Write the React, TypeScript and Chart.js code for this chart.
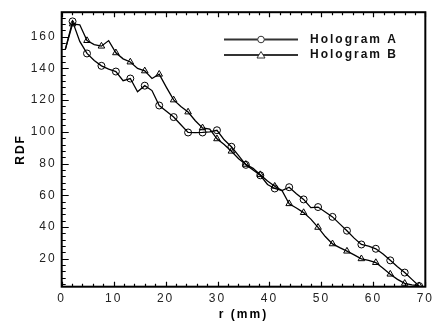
import React, { useEffect, useRef } from 'react';
import { Chart, registerables } from 'chart.js';

Chart.register(...registerables);

// radius r (mm) of each sample
const rValues = [
  0.7, 2.09, 3.48, 4.87, 6.26, 7.65, 9.04, 10.43, 11.82, 13.21,
  14.6, 15.99, 17.38, 18.77, 20.16, 21.55, 22.94, 24.33, 25.72, 27.11,
  28.5, 29.89, 31.28, 32.67, 34.06, 35.45, 36.84, 38.23, 39.62, 41.01,
  42.4, 43.79, 45.18, 46.57, 47.96, 49.35, 50.74, 52.13, 53.52, 54.91,
  56.3, 57.69, 59.08, 60.47, 61.86, 63.25, 64.64, 66.03, 67.42, 68.81,
];

const hologramA = [
  152, 169.6, 157, 149.4, 145, 141.6, 139.5, 138.0, 132.2, 133.6,
  125.3, 129.1, 126, 116.6, 113, 109.3, 104.5, 99.6, 99.5, 99.6,
  100, 101, 95, 90.6, 85, 79.2, 76, 72.6, 66.8, 64.3,
  63, 65.1, 61, 57.4, 52.2, 52.6, 49.5, 46.4, 42, 37.7,
  33, 29.0, 28, 26.3, 23, 19.0, 15, 11.3, 7, 2.8,
];

const hologramB = [
  152, 168, 167.5, 157.5, 155, 154, 157.5, 149.8, 146, 144,
  140, 138.4, 133.6, 136.3, 128, 120.1, 116, 112.5, 107, 102.5,
  101.7, 95.6, 92, 87.8, 83, 79.5, 77, 73, 69, 65.7,
  63, 54.7, 52, 49.1, 45, 39.8, 34, 29.4, 27, 24.8,
  22.5, 20.0, 19, 17.6, 14, 10.3, 7, 4.5, 3.5, 3,
];

// markers are shown on every other sample
const markerShown = [
  0, 1, 0, 1, 0, 1, 0, 1, 0, 1, 0, 1, 0, 1, 0, 1, 0, 1, 0, 1, 0, 1, 0, 1, 0,
  1, 0, 1, 0, 1, 0, 1, 0, 1, 0, 1, 0, 1, 0, 1, 0, 1, 0, 1, 0, 1, 0, 1, 0, 1,
];

const seriesNames = ['Hologram A', 'Hologram B'];
const xMajorTicks = [0, 10, 20, 30, 40, 50, 60, 70];
const xMinorTicks = [2, 4, 6, 8, 12, 14, 16, 18, 22, 24, 26, 28, 32, 34, 36, 38, 42, 44, 46, 48, 52, 54, 56, 58, 62, 64, 66, 68];
const yMajorTicks = [20, 40, 60, 80, 100, 120, 140, 160];
const yMinorTicks = [4, 8, 12, 16, 24, 28, 32, 36, 44, 48, 52, 56, 64, 68, 72, 76, 84, 88, 92, 96, 104, 108, 112, 116, 124, 128, 132, 136, 144, 148, 152, 156, 164, 168, 172];

const FONT = 'Arial, "Liberation Sans", Helvetica, sans-serif';

const spacingPlugin = {
  id: 'spacing',
  beforeUpdate(chart: any) {
    chart.ctx.letterSpacing = '2px';
  },
  beforeDraw(chart: any) {
    chart.ctx.letterSpacing = '2px';
  },
};

const framePlugin = {
  id: 'frame',
  afterDatasetsDraw(chart: any) {
    const { ctx, chartArea, scales } = chart;
    const { left, right, top, bottom } = chartArea;
    const xs = scales.x;
    const ys = scales.y;
    ctx.save();
    ctx.strokeStyle = '#000';
    ctx.lineWidth = 1.2;
    ctx.beginPath();
    const tickX = (v: number, len: number) => {
      const px = Math.round(xs.getPixelForValue(v)) + 0.5;
      ctx.moveTo(px, bottom);
      ctx.lineTo(px, bottom - len);
      ctx.moveTo(px, top);
      ctx.lineTo(px, top + len);
    };
    const tickY = (v: number, len: number) => {
      const py = Math.round(ys.getPixelForValue(v)) + 0.5;
      ctx.moveTo(left, py);
      ctx.lineTo(left + len, py);
    };
    xMajorTicks.forEach((v) => tickX(v, 5));
    xMinorTicks.forEach((v) => tickX(v, 3));
    yMajorTicks.forEach((v) => tickY(v, 7));
    yMinorTicks.forEach((v) => tickY(v, 4));
    ctx.stroke();
    ctx.lineWidth = 2;
    ctx.strokeRect(left, top, right - left, bottom - top);
    ctx.restore();
  },
  afterDraw(chart: any) {
    const { ctx } = chart;
    ctx.save();
    ctx.letterSpacing = '2px';
    const x0 = 224;
    const x1 = 298;
    const xm = 261;
    const rows = [39.5, 55];
    rows.forEach((y, i) => {
      ctx.strokeStyle = '#333';
      ctx.lineWidth = 2;
      ctx.beginPath();
      ctx.moveTo(x0, y);
      ctx.lineTo(x1, y);
      ctx.stroke();
      ctx.lineWidth = 1;
      ctx.fillStyle = '#fff';
      ctx.beginPath();
      if (i === 0) {
        ctx.arc(xm, y, 3.3, 0, Math.PI * 2);
      } else {
        ctx.moveTo(xm, y - 3.5);
        ctx.lineTo(xm + 4, y + 3);
        ctx.lineTo(xm - 4, y + 3);
        ctx.closePath();
      }
      ctx.fill();
      ctx.stroke();
      ctx.fillStyle = '#111';
      ctx.font = `bold 12px ${FONT}`;
      ctx.textBaseline = 'middle';
      ctx.textAlign = 'left';
      ctx.fillText(seriesNames[i], 310, y);
    });
    ctx.restore();
  },
};

export default function App() {
  const ref = useRef<HTMLCanvasElement | null>(null);

  useEffect(() => {
    document.body.style.margin = '0';
    const canvas = ref.current;
    if (!canvas) return;
    const makeData = (vals: number[]) => rValues.map((r, i) => ({ x: r, y: vals[i] }));
    const chart = new Chart(canvas, {
      type: 'line',
      data: {
        datasets: [
          {
            label: seriesNames[0],
            data: makeData(hologramA),
            borderColor: '#000',
            borderWidth: 1.3,
            pointStyle: 'circle',
            pointRadius: markerShown.map((m) => (m ? 3.5 : 0)),
            pointBorderColor: '#000',
            pointBorderWidth: 1,
            pointBackgroundColor: 'rgba(0,0,0,0)',
            tension: 0,
          },
          {
            label: seriesNames[1],
            data: makeData(hologramB),
            borderColor: '#000',
            borderWidth: 1.3,
            pointStyle: 'triangle',
            pointRadius: markerShown.map((m) => (m ? 3.8 : 0)),
            pointBorderColor: '#000',
            pointBorderWidth: 1,
            pointBackgroundColor: 'rgba(0,0,0,0)',
            tension: 0,
          },
        ],
      },
      options: {
        animation: false,
        responsive: false,
        devicePixelRatio: 1,
        layout: { padding: { left: 0, top: 9, right: 7.3, bottom: 0 } },
        plugins: {
          legend: { display: false },
          tooltip: { enabled: false },
        },
        scales: {
          x: {
            type: 'linear',
            min: 0,
            max: 70,
            grid: { display: false, drawTicks: false },
            border: { display: false },
            afterBuildTicks: (scale: any) => {
              scale.ticks = xMajorTicks.map((v) => ({ value: v }));
            },
            afterFit: (scale: any) => {
              scale.height = 36.3;
            },
            ticks: {
              padding: 5,
              color: '#222',
              font: { family: FONT, size: 12 },
              maxRotation: 0,
              autoSkip: false,
            },
            title: {
              display: true,
              text: 'r (mm)',
              color: '#000',
              font: { family: FONT, size: 12, weight: 'bold' },
              padding: { top: 0, bottom: 1 },
            },
          },
          y: {
            type: 'linear',
            min: 2.4,
            max: 175.4,
            grid: { display: false, drawTicks: false },
            border: { display: false },
            afterBuildTicks: (scale: any) => {
              scale.ticks = yMajorTicks.map((v) => ({ value: v }));
            },
            afterFit: (scale: any) => {
              scale.width = 61.7;
            },
            ticks: {
              padding: 5,
              color: '#222',
              font: { family: FONT, size: 12 },
              autoSkip: false,
            },
            title: {
              display: true,
              text: 'RDF',
              color: '#000',
              font: { family: FONT, size: 12, weight: 'bold' },
              padding: { top: 13.5, bottom: 0 },
            },
          },
        },
      },
      plugins: [spacingPlugin, framePlugin],
    } as any);
    return () => chart.destroy();
  }, []);

  return (
    <div style={{ position: 'absolute', left: 0, top: 0, width: 439, height: 323, background: '#fff' }}>
      <canvas ref={ref} width={439} height={323} style={{ width: 439, height: 323, display: 'block' }} />
    </div>
  );
}
